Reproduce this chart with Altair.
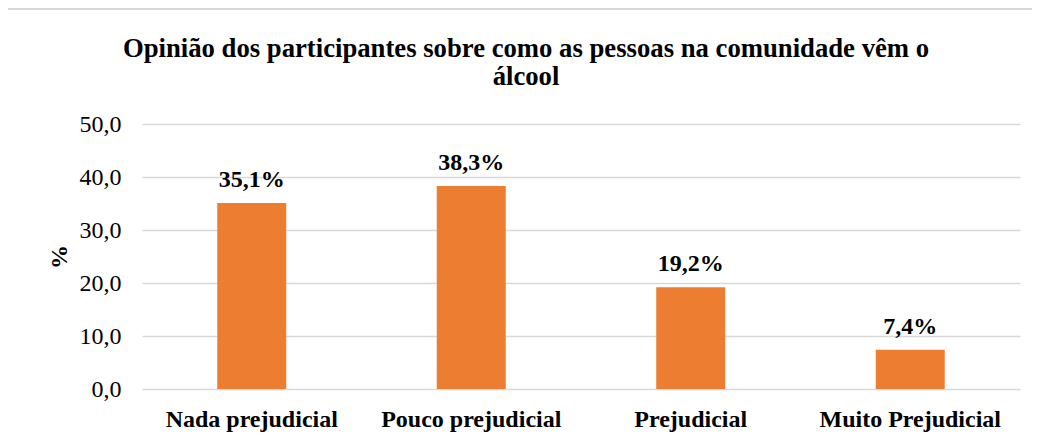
import altair as alt
import pandas as pd

categories = ["Nada prejudicial", "Pouco prejudicial", "Prejudicial", "Muito Prejudicial"]
values = [35.1, 38.3, 19.2, 7.4]
labels = ["35,1%", "38,3%", "19,2%", "7,4%"]
y_ticks = [0, 10, 20, 30, 40, 50]

df = pd.DataFrame({"cat": categories, "val": values, "lab": labels})

FONT = "Liberation Serif"
W, H = 878, 265

x = alt.X("cat:N", sort=categories, title=None,
          scale=alt.Scale(paddingInner=0, paddingOuter=0),
          axis=alt.Axis(labelAngle=0, labelFont=FONT, labelFontSize=24, labelFontWeight="bold",
                        labelColor="#000000", labelPadding=18, labelLimit=0,
                        ticks=False, domain=False, grid=False))
y = alt.Y("val:Q", title="%",
          scale=alt.Scale(domain=[0, 50]),
          axis=alt.Axis(values=y_ticks, labelExpr="replace(format(datum.value, '.1f'), '.', ',')",
                        labelFont=FONT, labelFontSize=24, labelColor="#000000", labelPadding=21,
                        ticks=False, domain=False, gridColor="#d9d9d9", gridWidth=1.5,
                        titleFont=FONT, titleFontSize=24, titleFontWeight="bold", titleColor="#000000",
                        titlePadding=8))

bars = alt.Chart(df).mark_bar(color="#ED7D31", size=69).encode(x=x, y=y)
text = alt.Chart(df).mark_text(font=FONT, fontSize=24, fontWeight="bold", color="#000000",
                               baseline="bottom", dy=-11).encode(x=x, y=y, text="lab:N")

frame = alt.Chart(df).mark_rect(fill=None, stroke="#d9d9d9", strokeWidth=1.5).encode(
    x=alt.value(-135), x2=alt.value(W + 30), y=alt.value(-115), y2=alt.value(H + 70))

chart = alt.layer(frame, bars, text).properties(
    width=W, height=H,
    padding={"left": 134, "top": 116, "right": 12, "bottom": 47},
    autosize=alt.AutoSizeParams(type="none"),
    title=alt.TitleParams(
        ["Opinião dos participantes sobre como as pessoas na comunidade vêm o", "álcool"],
        font=FONT, fontSize=26.7, fontWeight="bold", color="#000000",
        anchor="middle", dx=-55, offset=0, dy=82, lineHeight=28)
).configure(background="white").configure_view(stroke=None)

chart.save("out.html", embed_options={"renderer": "svg", "actions": False})
